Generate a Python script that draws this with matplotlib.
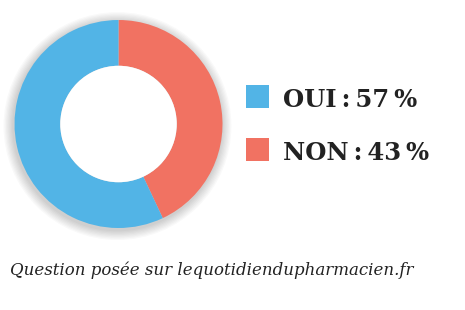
import matplotlib.pyplot as plt
from matplotlib.patches import Rectangle, Circle

labels = ["NON", "OUI"]
values = [43, 57]
colors = ["#F17262", "#52B4E6"]
legend_order = ["OUI", "NON"]
caption = "Question posée sur lequotidiendupharmacien.fr"

W, H = 465, 310
fig = plt.figure(figsize=(W / 100, H / 100), dpi=100)

# donut axes: centre ~ (118.5, 124) px, outer radius ~104 px, axes spans +-1.15
cx, cy, r = 118.5, 124, 104
lim = 1.15
half = r * lim
ax = fig.add_axes([(cx - half) / W, (H - cy - half) / H, 2 * half / W, 2 * half / H])
ax.axis("off")

# soft shadow
for i in range(8):
    ax.add_patch(Circle((-0.01, -0.02), 1.0 + 0.012 * (i + 1), color="#000000",
                        alpha=0.022, lw=0, zorder=0))

ax.pie(values, colors=colors, startangle=90, counterclock=False, radius=1.0,
       wedgeprops=dict(width=0.44, edgecolor="none"))
ax.add_patch(Circle((0, 0), 0.56, color="white", lw=0, zorder=5))
ax.set_xlim(-lim, lim)
ax.set_ylim(-lim, lim)
ax.set_aspect("equal")

# legend
pct = dict(zip(labels, values))
col = dict(zip(labels, colors))
for i, lab in enumerate(legend_order):
    top = 85 + i * 53
    fig.patches.append(Rectangle((246 / W, (H - top - 23) / H), 23 / W, 23 / H,
                                 transform=fig.transFigure, color=col[lab], lw=0))
    fig.text(283 / W, (H - top - 22) / H, f"{lab}\u2009:\u2009{pct[lab]}\u2009%",
             fontsize=17.5, fontweight="bold", family="DejaVu Serif",
             color="#222222", ha="left", va="baseline")

fig.text(10 / W, (H - 275) / H, caption, fontsize=12, style="italic",
         family="DejaVu Serif", color="#222222", ha="left", va="baseline")

fig.savefig("out.png", dpi=100)
